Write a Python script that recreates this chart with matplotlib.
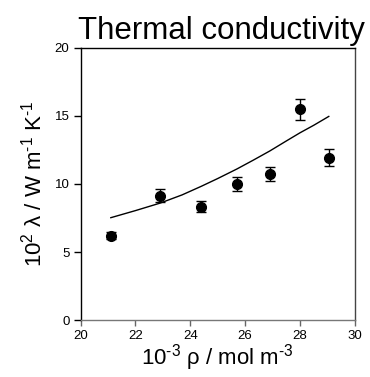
import matplotlib
matplotlib.use('Agg')
import matplotlib.pyplot as plt

plt.rcParams['font.family'] = ['Liberation Sans', 'DejaVu Sans']
plt.rcParams['mathtext.fontset'] = 'custom'
plt.rcParams['mathtext.rm'] = 'Liberation Sans'
plt.rcParams['mathtext.it'] = 'Liberation Sans'
plt.rcParams['mathtext.default'] = 'regular'

# measured data
rho = [21.1, 22.9, 24.4, 25.7, 26.9, 28.0, 29.05]
lam = [6.2, 9.14, 8.33, 9.97, 10.75, 15.49, 11.93]
lam_err = [0.25, 0.48, 0.40, 0.51, 0.53, 0.77, 0.60]

# fitted curve
fit_rho = [21.1, 22.0, 22.9, 23.7, 24.4, 25.0, 25.7, 26.3, 26.9, 27.5, 28.0, 28.5, 29.05]
fit_lam = [7.53, 8.05, 8.6, 9.2, 9.83, 10.4, 11.1, 11.75, 12.42, 13.15, 13.75, 14.3, 14.95]

fig = plt.figure(figsize=(3.7, 3.77), dpi=100)
ax = fig.add_axes([0.218, 0.150, 0.741, 0.724])

ax.plot(fit_rho, fit_lam, color='black', linewidth=1.0)
ax.errorbar(rho, lam, yerr=lam_err, fmt='o', color='black', markersize=7,
            capsize=3.5, elinewidth=1.0, capthick=1.0)

ax.set_xlim(20, 30)
ax.set_ylim(0, 20)
ax.set_xticks([20, 22, 24, 26, 28, 30])
ax.set_yticks([0, 5, 10, 15, 20])
ax.tick_params(axis='both', direction='out', labelsize=9.5, length=5, width=1.0, pad=3)
ax.tick_params(axis='x', colors='#666666', labelcolor='black', length=4)

ax.spines['bottom'].set_color('#777777')
ax.spines['right'].set_color('#444444')
for s in ax.spines.values():
    s.set_linewidth(1.0)

ax.set_xlabel(r'10$^{\text{-3}}$ ρ / mol m$^{\text{-3}}$', fontsize=16, labelpad=0)
ax.set_ylabel(r'10$^{\text{2}}$ λ / W m$^{\text{-1}}$ K$^{\text{-1}}$', fontsize=16, labelpad=6)
ax.set_title('Thermal conductivity', fontsize=22.5, pad=6, x=0.515)

fig.savefig('out.png', dpi=100)
